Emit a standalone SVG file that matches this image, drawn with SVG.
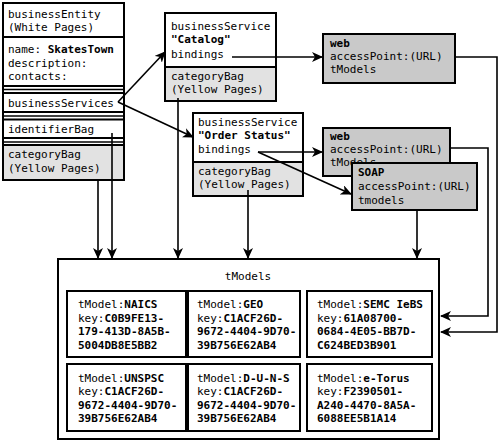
<svg xmlns="http://www.w3.org/2000/svg" width="500" height="442" viewBox="0 0 500 442">
<defs>
<marker id="arr" markerWidth="11" markerHeight="10" refX="10" refY="5" orient="auto" markerUnits="userSpaceOnUse">
<path d="M0,0 L11,5 L0,10 L3,5 z" fill="#000"/>
</marker>
<style>
text{font-family:"DejaVu Sans Mono","Liberation Mono",monospace;font-size:11px;fill:#000}
.b{font-weight:bold}
.box{fill:#fff;stroke:#000;stroke-width:2}
.cat{fill:#e2e2e2;stroke:#000;stroke-width:2}
.web{fill:#c9c9c9;stroke:#000;stroke-width:2}
.sep{stroke:#000;stroke-width:1.5;fill:none}
.c{stroke:#000;stroke-width:1.6;fill:none}
.ca{stroke:#000;stroke-width:1.6;fill:none;marker-end:url(#arr)}
</style>
</defs>

<g id="businessEntity">
<rect class="box" x="3" y="3" width="121" height="177"/>
<rect class="cat" x="3" y="145" width="121" height="35"/>
<line class="sep" x1="3" y1="37" x2="124" y2="37" style="stroke-width:2"/>
<line class="sep" x1="3" y1="86" x2="124" y2="86" style="stroke-width:2"/>
<line class="sep" x1="3" y1="89.5" x2="124" y2="89.5"/>
<line class="sep" x1="3" y1="93" x2="124" y2="93" style="stroke-width:2"/>
<line class="sep" x1="3" y1="112" x2="124" y2="112" style="stroke-width:2"/>
<line class="sep" x1="3" y1="116" x2="124" y2="116"/>
<line class="sep" x1="3" y1="119.5" x2="124" y2="119.5" style="stroke-width:2"/>
<line class="sep" x1="3" y1="138" x2="124" y2="138" style="stroke-width:2"/>
<line class="sep" x1="3" y1="142" x2="124" y2="142"/>
<text x="8" y="18">businessEntity</text>
<text x="8" y="31">(White Pages)</text>
<text x="8" y="53">name: <tspan class="b">SkatesTown</tspan></text>
<text x="8" y="67">description:</text>
<text x="8" y="80">contacts:</text>
<text x="8" y="107">businessServices</text>
<text x="8" y="133">identifierBag</text>
<text x="8" y="158">categoryBag</text>
<text x="8" y="172">(Yellow Pages)</text>
</g>

<g id="serviceCatalog">
<rect class="box" x="165" y="13" width="111" height="88"/>
<rect class="cat" x="165" y="67" width="111" height="34"/>
<text x="171" y="30">businessService</text>
<text x="171" y="43" class="b">"Catalog"</text>
<text x="171" y="58">bindings</text>
<text x="171" y="80">categoryBag</text>
<text x="171" y="93">(Yellow Pages)</text>
</g>

<g id="serviceOrderStatus">
<rect class="box" x="193" y="113" width="110" height="83"/>
<rect class="cat" x="193" y="162" width="110" height="34"/>
<text x="198" y="126">businessService</text>
<text x="198" y="139" class="b">"Order Status"</text>
<text x="198" y="153">bindings</text>
<text x="198" y="175">categoryBag</text>
<text x="198" y="188">(Yellow Pages)</text>
</g>

<g id="web1">
<rect class="web" x="323" y="34" width="132" height="49"/>
<text x="330" y="47" class="b">web</text>
<text x="330" y="60">accessPoint:(URL)</text>
<text x="330" y="73">tModels</text>
</g>

<g id="web2">
<rect class="web" x="323" y="128" width="127" height="48"/>
<text x="330" y="140" class="b">web</text>
<text x="330" y="153">accessPoint:(URL)</text>
<text x="330" y="166">tModels</text>
</g>

<g id="soap">
<rect class="web" x="352" y="163" width="125" height="47"/>
<text x="358" y="176" class="b">SOAP</text>
<text x="358" y="190">accessPoint:(URL)</text>
<text x="358" y="204">tmodels</text>
</g>

<g id="tModels">
<rect class="box" x="58" y="259" width="381" height="180"/>
<text x="248" y="280" text-anchor="middle">tModels</text>
</g>

<g id="tm-naics">
<rect class="box" x="67" y="291" width="119" height="66"/>
<text x="78" y="308">tModel:<tspan class="b">NAICS</tspan></text>
<text x="78" y="322">key:<tspan class="b">C0B9FE13-</tspan></text>
<text x="78" y="335" class="b">179-413D-8A5B-</text>
<text x="78" y="349" class="b">5004DB8E5BB2</text>
</g>
<g id="tm-geo">
<rect class="box" x="188" y="291" width="112" height="66"/>
<text x="197" y="308">tModel:<tspan class="b">GEO</tspan></text>
<text x="197" y="322">key:<tspan class="b">C1ACF26D-</tspan></text>
<text x="197" y="335" class="b">9672-4404-9D70-</text>
<text x="197" y="349" class="b">39B756E62AB4</text>
</g>
<g id="tm-semc">
<rect class="box" x="307" y="291" width="125" height="66"/>
<text x="317" y="308">tModel:<tspan class="b">SEMC IeBS</tspan></text>
<text x="317" y="322">key:<tspan class="b">61A08700-</tspan></text>
<text x="317" y="335" class="b">0684-4E05-BB7D-</text>
<text x="317" y="349" class="b">C624BED3B901</text>
</g>
<g id="tm-unspsc">
<rect class="box" x="67" y="364" width="119" height="67"/>
<text x="78" y="382">tModel:<tspan class="b">UNSPSC</tspan></text>
<text x="78" y="395">key:<tspan class="b">C1ACF26D-</tspan></text>
<text x="78" y="409" class="b">9672-4404-9D70-</text>
<text x="78" y="422" class="b">39B756E62AB4</text>
</g>
<g id="tm-duns">
<rect class="box" x="188" y="364" width="112" height="67"/>
<text x="197" y="382">tModel:<tspan class="b">D-U-N-S</tspan></text>
<text x="197" y="395">key:<tspan class="b">C1ACF26D-</tspan></text>
<text x="197" y="409" class="b">9672-4404-9D70-</text>
<text x="197" y="422" class="b">39B756E62AB4</text>
</g>
<g id="tm-etorus">
<rect class="box" x="307" y="364" width="125" height="67"/>
<text x="317" y="382">tModel:<tspan class="b">e-Torus</tspan></text>
<text x="317" y="395">key:<tspan class="b">F2390501-</tspan></text>
<text x="317" y="409" class="b">A240-4470-8A5A-</text>
<text x="317" y="422" class="b">6088EE5B1A14</text>
</g>

<g id="connectors">
<line class="ca" x1="118" y1="102" x2="165" y2="52"/>
<line class="ca" x1="118" y1="102" x2="193" y2="137"/>
<line class="ca" x1="232" y1="57" x2="322" y2="57"/>
<line class="ca" x1="258" y1="152" x2="322" y2="152"/>
<line class="ca" x1="258" y1="152" x2="351" y2="194"/>
<polyline class="ca" points="455,57 497,57 497,332 441,332"/>
<polyline class="ca" points="450,148 488,148 488,316 441,316"/>
<line class="ca" x1="98" y1="180" x2="98" y2="258"/>
<line class="ca" x1="112" y1="133" x2="112" y2="258"/>
<line class="ca" x1="178" y1="98" x2="178" y2="258"/>
<line class="ca" x1="248" y1="190" x2="248" y2="258"/>
<line class="ca" x1="417" y1="210" x2="417" y2="258"/>
</g>
</svg>
